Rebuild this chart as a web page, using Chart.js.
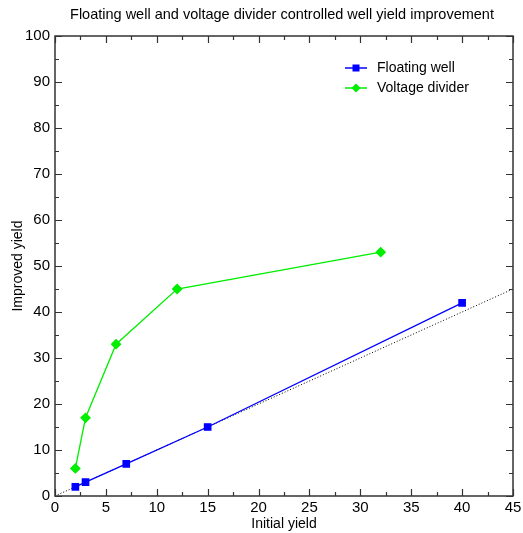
<!DOCTYPE html>
<html>
<head>
<meta charset="utf-8">
<script src="https://cdn.jsdelivr.net/npm/chart.js@4.4.0/dist/chart.umd.min.js"></script>
<style>
html,body{margin:0;padding:0;background:#fff;}
#wrap{width:523px;height:533px;}
</style>
</head>
<body>
<div id="wrap"><canvas id="c" width="523" height="533"></canvas></div>
<script>
const chartTitle = "Floating well and voltage divider controlled well yield improvement";
const xTitle = "Initial yield";
const yTitle = "Improved yield";
const floatingX = [2, 3, 7, 15, 40];
const floatingY = [2, 3, 7, 15, 42];
const dividerX = [2, 3, 6, 12, 32];
const dividerY = [6, 17, 33, 45, 53];
const refX = [0, 45];
const refY = [0, 45];
const seriesNames = ["Floating well", "Voltage divider"];

const FONT = "'Liberation Sans', Arial, sans-serif";

function pts(xs, ys){ return xs.map((x,i)=>({x:x, y:ys[i]})); }

const boxPlugin = {
  id: 'box',
  afterDatasetsDraw(chart){
    const ctx = chart.ctx, a = chart.chartArea;
    const xs = chart.scales.x, ys = chart.scales.y;
    ctx.save();
    ctx.strokeStyle = '#333';
    ctx.lineWidth = 1.5;
    ctx.strokeRect(a.left, a.top, a.right - a.left, a.bottom - a.top);
    ctx.lineWidth = 1.2;
    for (let v = 0; v <= 45; v += 2.5) {
      const px = Math.round(xs.getPixelForValue(v)) + 0.5;
      const len = (Math.abs(v % 5) < 1e-6) ? 7 : 4;
      ctx.beginPath();
      ctx.moveTo(px, a.bottom); ctx.lineTo(px, a.bottom - len);
      ctx.moveTo(px, a.top); ctx.lineTo(px, a.top + len);
      ctx.stroke();
    }
    for (let v = 0; v <= 100; v += 5) {
      const py = Math.round(ys.getPixelForValue(v)) + 0.5;
      const len = (v % 10 === 0) ? 7 : 4;
      ctx.beginPath();
      ctx.moveTo(a.left, py); ctx.lineTo(a.left + len, py);
      ctx.moveTo(a.right, py); ctx.lineTo(a.right - len, py);
      ctx.stroke();
    }
    ctx.restore();
  },
  afterDraw(chart){
    const ctx = chart.ctx;
    ctx.save();
    ctx.fillStyle = '#000';
    ctx.font = '14.5px ' + FONT;
    ctx.textAlign = 'center';
    ctx.textBaseline = 'middle';
    ctx.fillText(chartTitle, 282, 15);
    const items = chart.data.datasets.slice(0, 2);
    items.forEach((ds, i) => {
      const y = 68 + i * 20;
      const x0 = 345, x1 = 367;
      ctx.strokeStyle = ds.borderColor;
      ctx.lineWidth = 1.5;
      ctx.beginPath(); ctx.moveTo(x0, y); ctx.lineTo(x1, y); ctx.stroke();
      ctx.fillStyle = ds.pointBackgroundColor;
      const cx = (x0 + x1) / 2;
      if (ds.pointStyle === 'rect') {
        ctx.fillRect(cx - 3.5, y - 3.5, 7, 7);
      } else {
        ctx.beginPath();
        ctx.moveTo(cx, y - 4.5); ctx.lineTo(cx + 4.5, y); ctx.lineTo(cx, y + 4.5); ctx.lineTo(cx - 4.5, y);
        ctx.closePath(); ctx.fill();
      }
      ctx.fillStyle = '#000';
      ctx.font = '14px ' + FONT;
      ctx.textAlign = 'left';
      ctx.fillText(seriesNames[i], 377, y);
    });
    ctx.restore();
  }
};

new Chart(document.getElementById('c'), {
  type: 'scatter',
  data: {
    datasets: [
      {
        label: seriesNames[0],
        data: pts(floatingX, floatingY),
        showLine: true,
        borderColor: '#0000ff',
        backgroundColor: '#0000ff',
        pointBackgroundColor: '#0000ff',
        pointBorderColor: '#0000ff',
        pointStyle: 'rect',
        pointRadius: 4.5,
        borderWidth: 1.3
      },
      {
        label: seriesNames[1],
        data: pts(dividerX, dividerY),
        showLine: true,
        borderColor: '#00ee00',
        backgroundColor: '#00ee00',
        pointBackgroundColor: '#00ee00',
        pointBorderColor: '#00ee00',
        pointStyle: 'rectRot',
        pointRadius: 4.5,
        borderWidth: 1.3
      },
      {
        label: 'ref',
        data: pts(refX, refY),
        showLine: true,
        borderColor: '#000',
        borderWidth: 1,
        borderDash: [1, 2],
        pointRadius: 0
      }
    ]
  },
  options: {
    responsive: false,
    animation: false,
    events: [],
    layout: { padding: { top: 36, right: 10, left: 0, bottom: 0 } },
    plugins: { legend: { display: false }, title: { display: false }, tooltip: { enabled: false } },
    scales: {
      x: {
        type: 'linear', min: 0, max: 45,
        grid: { display: false, drawTicks: false },
        border: { display: false },
        ticks: { stepSize: 5, color: '#000', font: { family: FONT, size: 15 }, padding: 3, maxRotation: 0 },
        title: { display: true, text: xTitle, color: '#000', font: { family: FONT, size: 14 }, padding: { top: 0, bottom: 0 } },
        afterFit(s){ s.height = 37; s.paddingLeft = 0; s.paddingRight = 0; }
      },
      y: {
        type: 'linear', min: 0, max: 100,
        grid: { display: false, drawTicks: false },
        border: { display: false },
        ticks: { stepSize: 10, color: '#000', font: { family: FONT, size: 15 }, padding: 5 },
        title: { display: true, text: yTitle, color: '#000', font: { family: FONT, size: 14 }, padding: { top: 10, bottom: 2 } },
        afterFit(s){ s.width = 55; s.paddingTop = 0; s.paddingBottom = 0; }
      }
    }
  },
  plugins: [boxPlugin]
});
</script>
</body>
</html>
